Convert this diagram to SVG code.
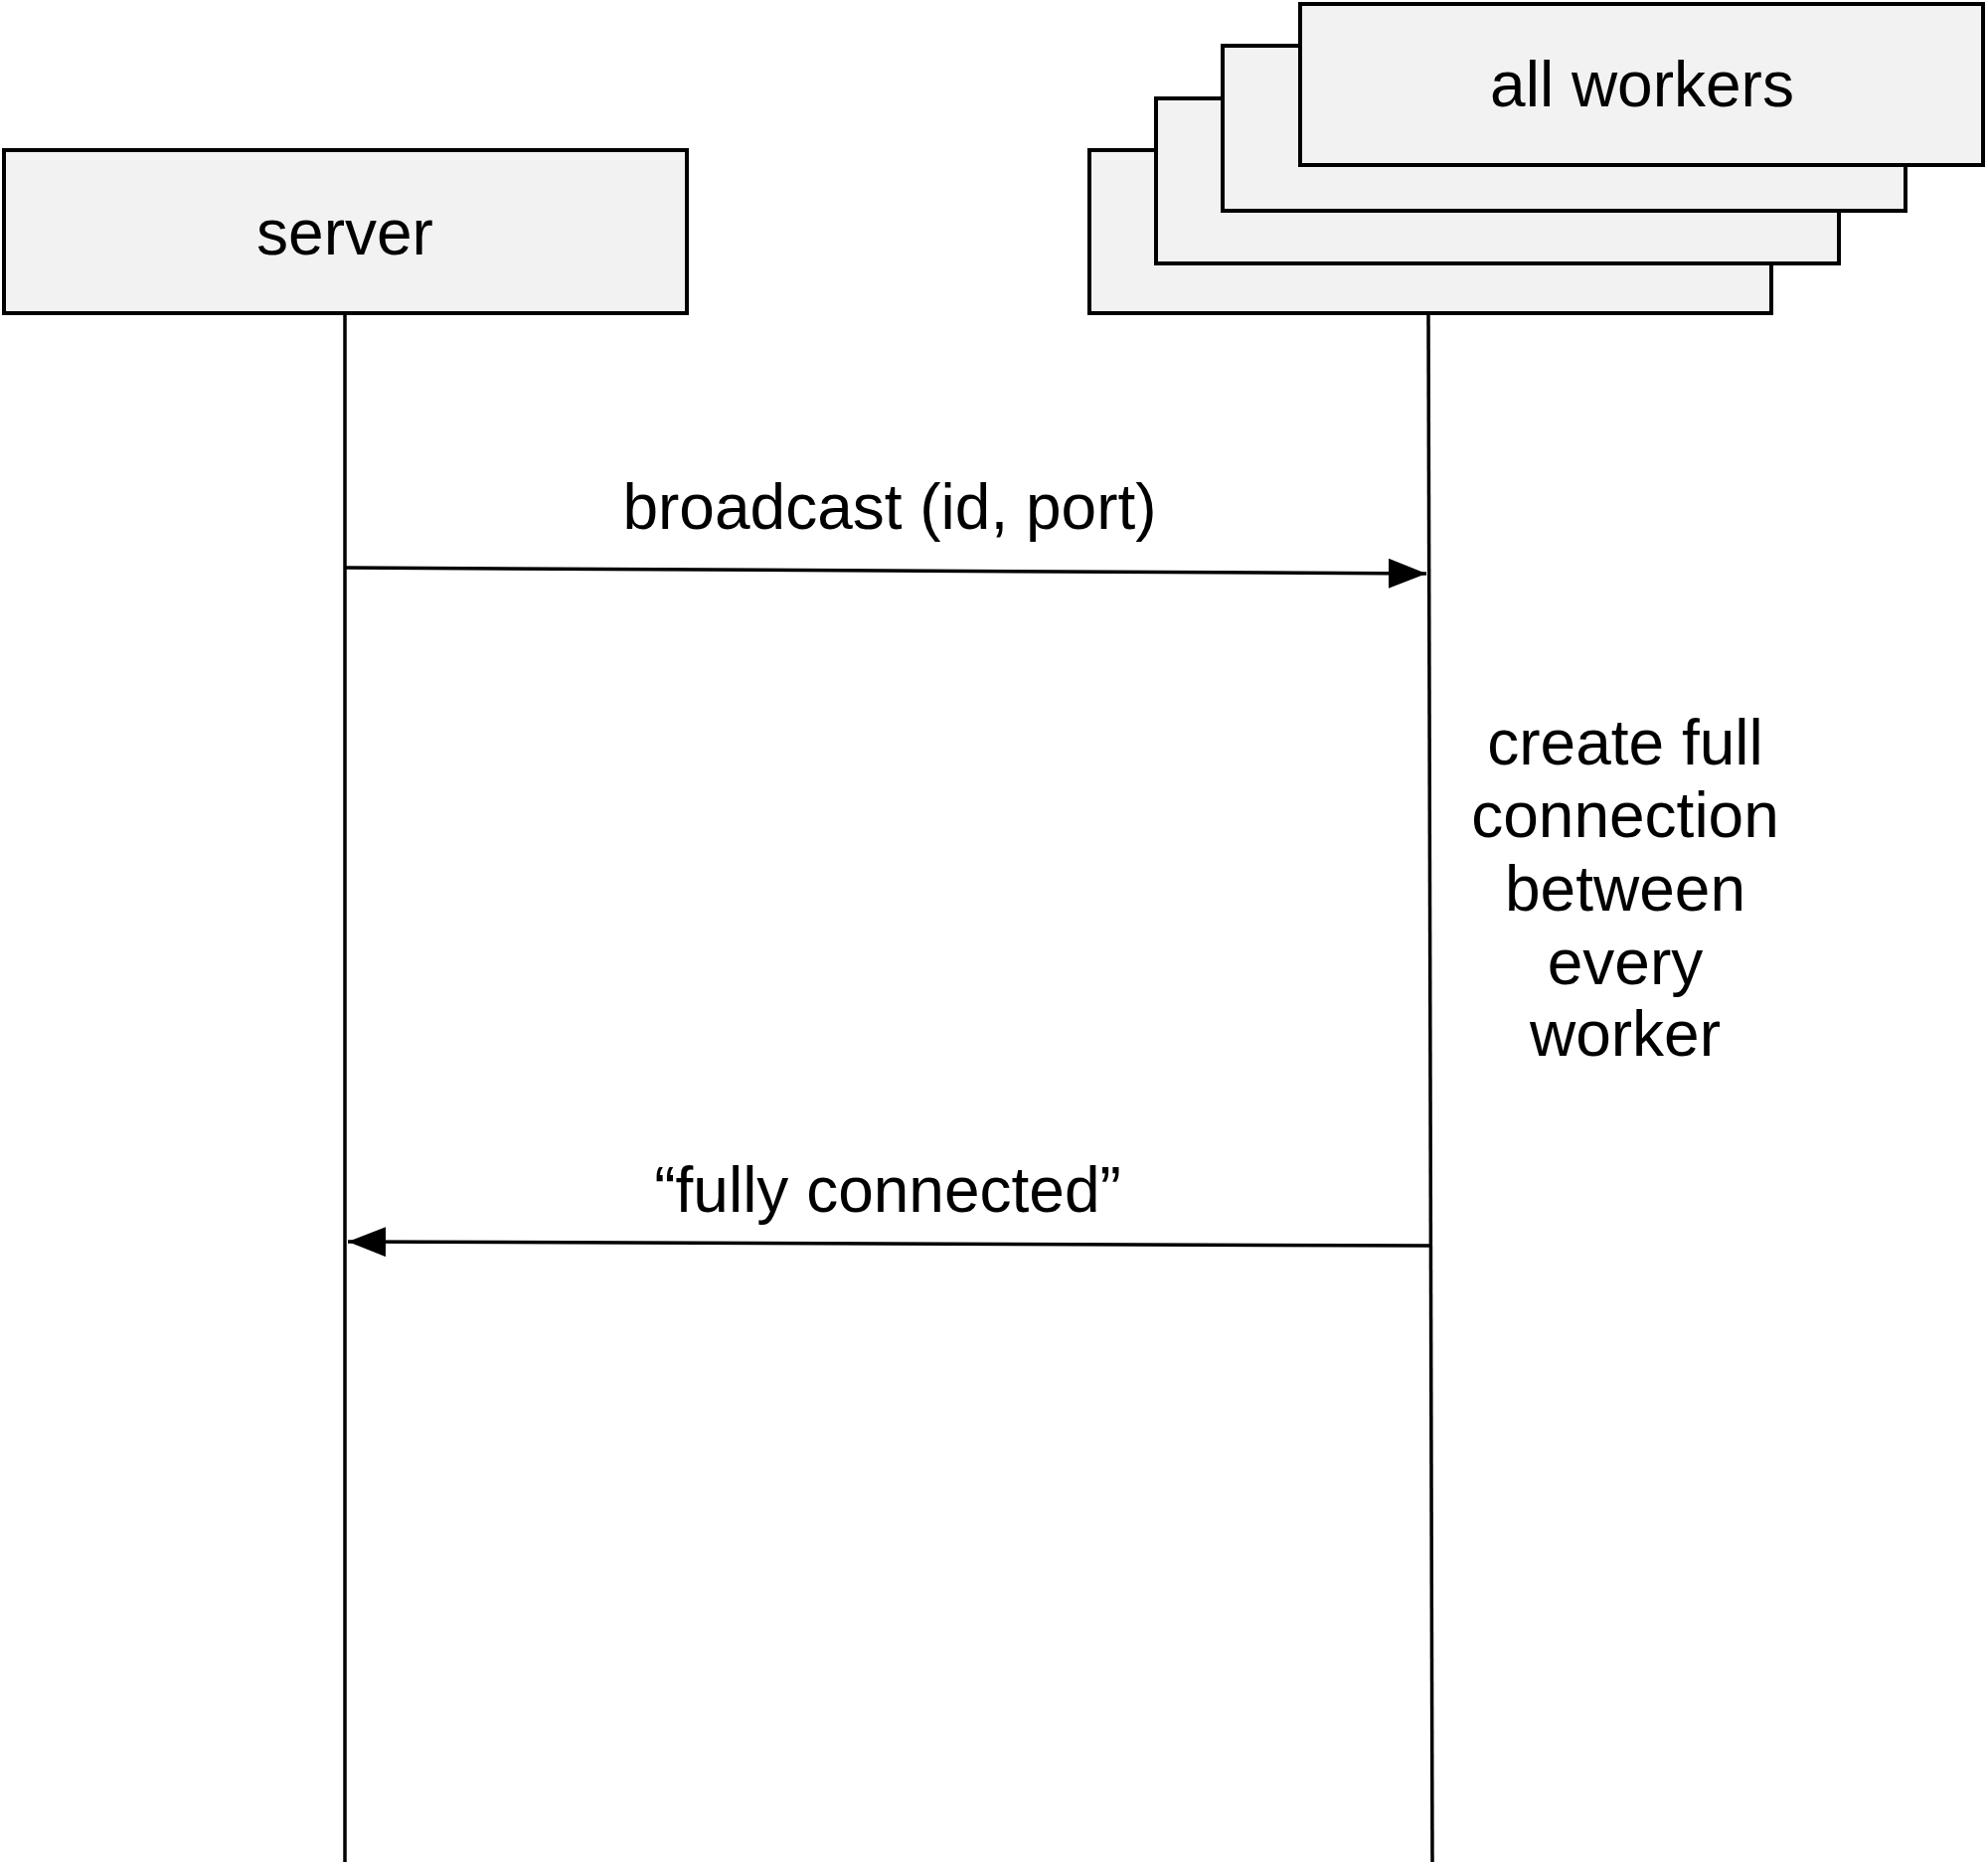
<svg xmlns="http://www.w3.org/2000/svg" width="2000" height="1876" viewBox="0 0 2000 1876">
<style>
.box{fill:#f2f2f2;stroke:#000;stroke-width:4}
.life{stroke:#000;stroke-width:3.5;fill:none}
.msg{stroke:#000;stroke-width:3.5;fill:none}
text{font-family:"Liberation Sans",Arial,Helvetica,sans-serif;font-size:64px;fill:#000;text-anchor:middle}
</style>
<defs>
<marker id="ah" viewBox="0 0 38 30" refX="38" refY="15" markerWidth="38" markerHeight="30" markerUnits="userSpaceOnUse" orient="auto">
<path d="M0,0 L38,15 L0,30 Z" fill="#000"/>
</marker>
</defs>
<rect width="2000" height="1876" fill="#fff"/>
<g id="server">
<rect class="box" x="4" y="151" width="687" height="164"/>
<text x="347" y="256">server</text>
</g>
<g id="workers">
<rect class="box" x="1096" y="151" width="686" height="164"/>
<rect class="box" x="1163" y="99" width="687" height="166"/>
<rect class="box" x="1230" y="46" width="687" height="166"/>
<rect class="box" x="1308" y="4" width="687" height="162"/>
<text x="1652" y="107">all workers</text>
</g>
<g id="connectors">
<line class="life" x1="347" y1="315" x2="347" y2="1873"/>
<line class="life" x1="1437" y1="315" x2="1441" y2="1873"/>
<path class="msg" d="M347,571 L1435,577" marker-end="url(#ah)"/>
<path class="msg" d="M1439,1253 L350,1249" marker-end="url(#ah)"/>
</g>
<g id="labels">
<text x="895" y="532">broadcast (id, port)</text>
<text x="893" y="1219">“fully connected”</text>
<text x="1635" y="769">create full</text>
<text x="1635" y="842">connection</text>
<text x="1635" y="916">between</text>
<text x="1635" y="990">every</text>
<text x="1635" y="1062">worker</text>
</g>
</svg>
